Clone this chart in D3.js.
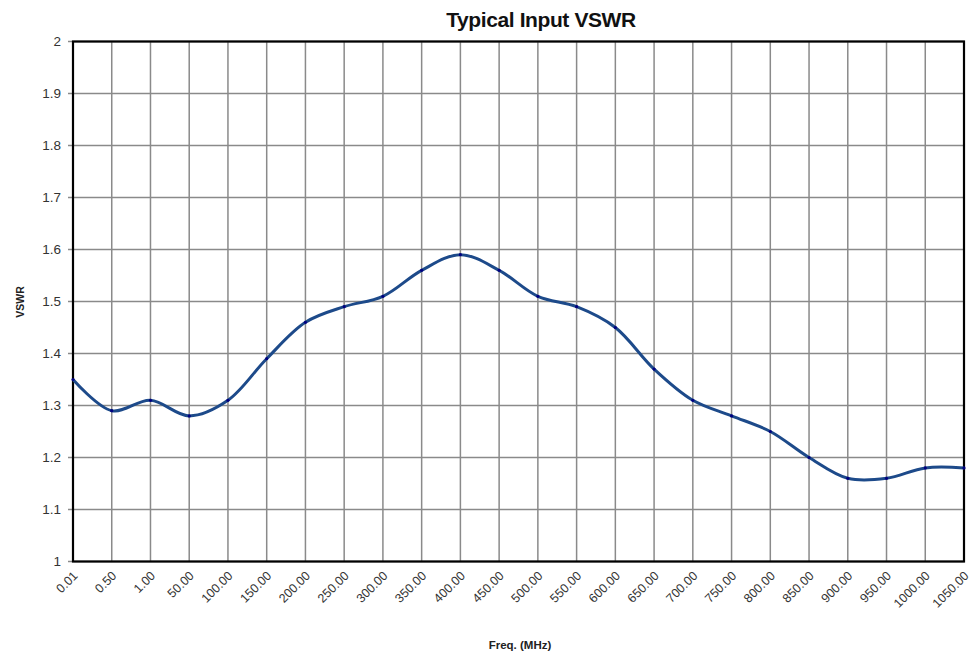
<!DOCTYPE html>
<html><head><meta charset="utf-8">
<script src="https://cdn.jsdelivr.net/npm/d3@7"></script>
<style>body{margin:0;background:#fff}svg{display:block;font-family:"Liberation Sans",Arial,sans-serif}</style>
</head><body><svg id="c" width="976" height="655"></svg>
<script>
const categories = ["0.01","0.50","1.00","50.00","100.00","150.00","200.00","250.00","300.00","350.00","400.00","450.00","500.00","550.00","600.00","650.00","700.00","750.00","800.00","850.00","900.00","950.00","1000.00","1050.00"];
const vswr = [1.35,1.29,1.31,1.28,1.31,1.39,1.46,1.49,1.51,1.56,1.59,1.56,1.51,1.49,1.45,1.37,1.31,1.28,1.25,1.20,1.16,1.16,1.18,1.18];
const yTicks = [1,1.1,1.2,1.3,1.4,1.5,1.6,1.7,1.8,1.9,2];
const title = "Typical Input VSWR";
const xTitle = "Freq. (MHz)";
const yTitle = "VSWR";

const svg = d3.select("#c");
const m = {l:73, r:964, t:41.5, b:561.5};
const x = d3.scalePoint().domain(categories).range([m.l, m.r]);
const y = d3.scaleLinear().domain([1,2]).range([m.b, m.t]);

// gridlines
svg.append("g").selectAll("line").data(yTicks).join("line")
  .attr("x1", m.l - 5).attr("x2", m.r).attr("y1", d=>y(d)).attr("y2", d=>y(d))
  .attr("stroke", "#8a8a8a").attr("stroke-width", 1.5);
svg.append("g").selectAll("line").data(categories).join("line")
  .attr("x1", d=>x(d)).attr("x2", d=>x(d)).attr("y1", m.t).attr("y2", m.b)
  .attr("stroke", "#8a8a8a").attr("stroke-width", 1.5);

// frame
svg.append("rect").attr("x", m.l).attr("y", m.t).attr("width", m.r-m.l).attr("height", m.b-m.t)
  .attr("fill","none").attr("stroke","#000").attr("stroke-width",2.2);

// y axis labels
const ya = d3.axisLeft(y).tickValues(yTicks).tickSize(0).tickPadding(12).tickFormat(d=>d3.format("")(+d.toFixed(1)));
const yg = svg.append("g").attr("transform",`translate(${m.l},0)`).call(ya);
yg.select(".domain").remove();
yg.selectAll("text").attr("font-size",13.5).attr("fill","#333").attr("font-family","Liberation Sans, Arial, sans-serif");

// x axis labels
const xa = d3.axisBottom(x).tickSize(0).tickPadding(0);
const xg = svg.append("g").attr("transform",`translate(0,${m.b})`).call(xa);
xg.select(".domain").remove();
xg.selectAll("text").attr("font-size",12.5).attr("fill","#333").attr("font-family","Liberation Sans, Arial, sans-serif")
  .attr("text-anchor","end").attr("dy",0).attr("y",0)
  .attr("transform","translate(5,15) rotate(-45)");

// line
const line = d3.line().x((d,i)=>x(categories[i])).y(d=>y(d)).curve(d3.curveCatmullRom.alpha(0.5));
svg.append("path").datum(vswr).attr("d", line).attr("fill","none")
  .attr("stroke","#1d4a8a").attr("stroke-width",3).attr("stroke-linejoin","round");
svg.append("g").selectAll("circle").data(vswr).join("circle")
  .attr("cx",(d,i)=>x(categories[i])).attr("cy",d=>y(d)).attr("r",1.6).attr("fill","#000080");

// titles
svg.append("text").attr("x",541).attr("y",27).attr("text-anchor","middle")
  .attr("font-size",21).attr("font-weight","bold").attr("fill","#111").attr("letter-spacing","-0.4").text(title);
svg.append("text").attr("x",520).attr("y",649).attr("text-anchor","middle")
  .attr("font-size",11.5).attr("font-weight","bold").attr("fill","#222").text(xTitle);
svg.append("text").attr("transform","translate(24,302) rotate(-90)").attr("text-anchor","middle")
  .attr("font-size",10.5).attr("font-weight","bold").attr("fill","#222").text(yTitle);
</script></body></html>
